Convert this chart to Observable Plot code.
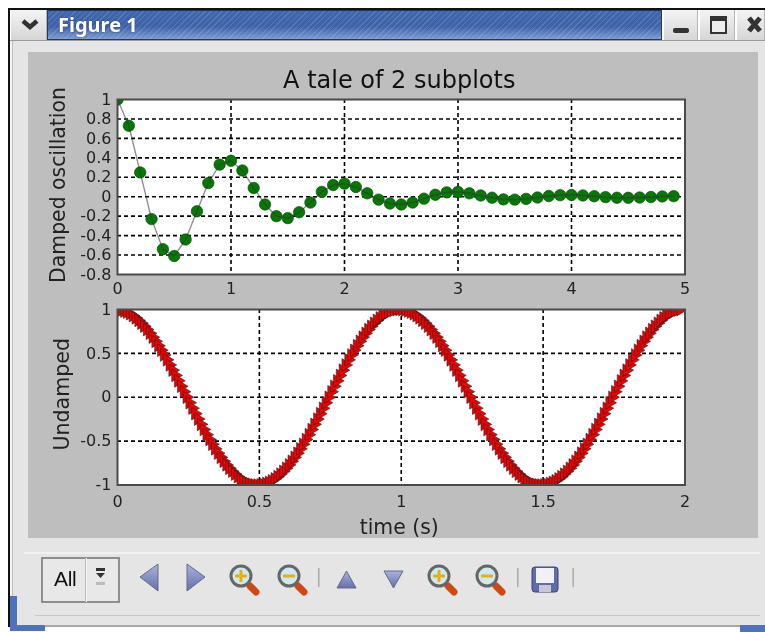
<!DOCTYPE html>
<html>
<head>
<meta charset="utf-8">
<script src="https://cdn.jsdelivr.net/npm/d3@7"></script>
<script src="https://cdn.jsdelivr.net/npm/@observablehq/plot@0.6"></script>
<style>
html,body{margin:0;padding:0;background:#fff;width:765px;height:632px;overflow:hidden}
#win{position:absolute;left:0;top:0;width:765px;height:632px;overflow:hidden;filter:blur(.5px);font-family:"DejaVu Sans",sans-serif}
.a{position:absolute;box-sizing:border-box}
.btn{background:linear-gradient(#f4f4f4,#d6d6d6);border-right:1px solid #b5b5b5;border-left:1px solid #fff}
svg{overflow:visible}
</style>
</head>
<body>
<div id="win">
  <div class="a" style="left:9px;top:40px;width:756px;height:586px;background:#e5e5e5"></div>
  <div class="a" style="left:9px;top:40px;width:3px;height:555px;background:#f6f6f6"></div>
  <div class="a" style="left:12px;top:41px;width:1px;height:555px;background:#bdbdbd"></div>
  <div class="a" style="left:9px;top:40px;width:756px;height:1px;background:#9a9a9a"></div>
  <div class="a" style="left:8px;top:9px;width:2px;height:618px;background:#111"></div>
  <div class="a" style="left:8px;top:8px;width:757px;height:2px;background:#111"></div>
  <div class="a btn" style="left:10px;top:10px;width:37px;height:30px"></div>
  <svg class="a" style="left:20px;top:17px" width="22" height="16"><path d="M3 4 L10 10 L17 4" fill="none" stroke="#333" stroke-width="4.5"/></svg>
  <div class="a" style="left:47px;top:10px;width:615px;height:30px;border:1px solid #26385f;background:repeating-linear-gradient(135deg,rgba(255,255,255,0) 0 3px,rgba(255,255,255,.14) 3px 4px),linear-gradient(#3f66ad,#3d62a8 55%,#7a9ad2)"></div>
  <div class="a" style="left:58px;top:11px;color:#fff;font:bold 20px 'Noto Sans';text-shadow:0 0 2px #24386a">Figure 1</div>
  <div class="a btn" style="left:663px;top:10px;width:35px;height:30px"></div>
  <div class="a btn" style="left:699px;top:10px;width:36px;height:30px"></div>
  <div class="a btn" style="left:736px;top:10px;width:29px;height:30px"></div>
  <svg class="a" style="left:663px;top:10px" width="102" height="30">
    <rect x="10" y="18" width="16" height="5" rx="2" fill="#333"/>
    <rect x="48" y="7" width="15" height="16" fill="#eee" stroke="#333" stroke-width="2"/><rect x="48" y="7" width="15" height="4" fill="#333"/>
    <path d="M86 8 L97 21 M97 8 L86 21" stroke="#333" stroke-width="5"/>
  </svg>
  <div class="a" style="left:28px;top:52px;width:730px;height:486px;background:#bebebe"></div>
  <div id="top" class="a" style="left:0;top:0"></div>
  <div id="bottom" class="a" style="left:0;top:290px"></div>
  <div class="a" style="left:24px;top:552px;width:736px;height:2px;background:#f1f1f1"></div>
  <div class="a" style="left:35px;top:615px;width:725px;height:1px;background:#c6c6c6"></div>
  <div class="a" style="left:41px;top:557px;width:79px;height:46px;border:2px solid #8e8e8e;background:#e8e8e8"></div>
  <div class="a" style="left:85px;top:558px;width:2px;height:44px;background:#f5f5f5;border-left:1px solid #bbb"></div>
  <div class="a" style="left:54px;top:567px;font:21px 'Liberation Sans';color:#111;letter-spacing:-.3px">All</div>
  <svg class="a" style="left:0;top:550px" width="765" height="60">
    <defs>
      <linearGradient id="b" x1="0" y1="0" x2="0" y2="1"><stop offset="0" stop-color="#a9b2dd"/><stop offset="1" stop-color="#666fa8"/></linearGradient>
      <g id="lens"><path d="M9 10 L15 16" stroke="#cc4a16" stroke-width="7" stroke-linecap="round"/><circle r="10" fill="#cfe9f3" stroke="#666" stroke-width="3"/></g>
    </defs>
    <path d="M96 23 H105 L100.5 28 Z M96 21 h9 v-3 h-9z" fill="#333"/><rect x="96" y="32" width="9" height="3" fill="#bbb"/>
    <path d="M158 14 V41 L140 27 Z M187 14 V41 L205 27 Z" fill="url(#b)" stroke="#666b85" stroke-width="1"/>
    <path d="M337 38 L346.500 21 L356 38 Z M384 21 H403 L393.500 38 Z" fill="url(#b)" stroke="#666b85" stroke-width="1"/>
    <g fill="#aaa"><rect x="318" y="18" width="1.500" height="19"/><rect x="517" y="18" width="1.500" height="19"/><rect x="572.500" y="18" width="1.500" height="19"/></g>
    <use href="#lens" x="241" y="26"/><use href="#lens" x="289" y="26"/><use href="#lens" x="439" y="26"/><use href="#lens" x="487" y="26"/>
    <g stroke="#e8ae12" stroke-width="3"><path d="M235 26 h12 M241 20 v12 M283 26 h12 M433 26 h12 M439 20 v12 M481 26 h12"/></g>
    <rect x="532" y="17" width="26" height="25" rx="3" fill="#5f6cab" stroke="#3b4270" stroke-width="1"/>
    <rect x="536" y="18" width="18" height="15" fill="#f0f0f6"/><rect x="539" y="35" width="12" height="7" fill="#c8c8d4"/>
  </svg>
  <div class="a" style="left:45px;top:625px;width:720px;height:2px;background:#a8a8a8"></div>
  <div class="a" style="left:10px;top:596px;width:7px;height:35px;background:#5072bd"></div>
  <div class="a" style="left:10px;top:625px;width:35px;height:6px;background:#5072bd"></div>
  <div class="a" style="left:740px;top:625px;width:25px;height:7px;background:#5072bd"></div>
</div>
<script>
const dampedT = [0,0.1,0.2,0.3,0.4,0.5,0.6,0.7,0.8,0.9,1,1.1,1.2,1.3,1.4,1.5,1.6,1.7,1.8,1.9,2,2.1,2.2,2.3,2.4,2.5,2.6,2.7,2.8,2.9,3,3.1,3.2,3.3,3.4,3.5,3.6,3.7,3.8,3.9,4,4.1,4.2,4.3,4.4,4.5,4.6,4.7,4.8,4.9];
const dampedY = [1,0.73,0.25,-0.23,-0.54,-0.61,-0.44,-0.15,0.14,0.33,0.37,0.27,0.09,-0.08,-0.2,-0.22,-0.16,-0.06,0.05,0.12,0.135,0.1,0.035,-0.03,-0.07,-0.08,-0.06,-0.02,0.02,0.045,0.05,0.035,0.013,-0.01,-0.027,-0.03,-0.022,-0.008,0.007,0.016,0.018,0.013,0.005,-0.004,-0.01,-0.011,-0.008,-0.003,0.003,0.006];
const undampedT = [
0,.01,.02,.03,.04,.05,.06,.07,.08,.09,.1,.11,.12,.13,.14,.15,.16,.17,.18,.19,.2,.21,.22,.23,.24,.25,.26,.27,.28,.29,.3,.31,.32,.33,.34,.35,.36,.37,.38,.39,.4,.41,.42,.43,.44,.45,.46,.47,.48,.49,
.5,.51,.52,.53,.54,.55,.56,.57,.58,.59,.6,.61,.62,.63,.64,.65,.66,.67,.68,.69,.7,.71,.72,.73,.74,.75,.76,.77,.78,.79,.8,.81,.82,.83,.84,.85,.86,.87,.88,.89,.9,.91,.92,.93,.94,.95,.96,.97,.98,.99,
1,1.01,1.02,1.03,1.04,1.05,1.06,1.07,1.08,1.09,1.1,1.11,1.12,1.13,1.14,1.15,1.16,1.17,1.18,1.19,1.2,1.21,1.22,1.23,1.24,1.25,1.26,1.27,1.28,1.29,1.3,1.31,1.32,1.33,1.34,1.35,1.36,1.37,1.38,1.39,1.4,1.41,1.42,1.43,1.44,1.45,1.46,1.47,1.48,1.49,
1.5,1.51,1.52,1.53,1.54,1.55,1.56,1.57,1.58,1.59,1.6,1.61,1.62,1.63,1.64,1.65,1.66,1.67,1.68,1.69,1.7,1.71,1.72,1.73,1.74,1.75,1.76,1.77,1.78,1.79,1.8,1.81,1.82,1.83,1.84,1.85,1.86,1.87,1.88,1.89,1.9,1.91,1.92,1.93,1.94,1.95,1.96,1.97,1.98,1.99];
const undampedY = [
1,.998,.992,.982,.969,.951,.93,.905,.876,.844,.809,.771,.729,.685,.637,.588,.536,.482,.426,.368,.309,.249,.187,.125,.063,0,-.063,-.125,-.187,-.249,-.309,-.368,-.426,-.482,-.536,-.588,-.637,-.685,-.729,-.771,-.809,-.844,-.876,-.905,-.93,-.951,-.969,-.982,-.992,-.998,
-1,-.998,-.992,-.982,-.969,-.951,-.93,-.905,-.876,-.844,-.809,-.771,-.729,-.685,-.637,-.588,-.536,-.482,-.426,-.368,-.309,-.249,-.187,-.125,-.063,0,.063,.125,.187,.249,.309,.368,.426,.482,.536,.588,.637,.685,.729,.771,.809,.844,.876,.905,.93,.951,.969,.982,.992,.998,
1,.998,.992,.982,.969,.951,.93,.905,.876,.844,.809,.771,.729,.685,.637,.588,.536,.482,.426,.368,.309,.249,.187,.125,.063,0,-.063,-.125,-.187,-.249,-.309,-.368,-.426,-.482,-.536,-.588,-.637,-.685,-.729,-.771,-.809,-.844,-.876,-.905,-.93,-.951,-.969,-.982,-.992,-.998,
-1,-.998,-.992,-.982,-.969,-.951,-.93,-.905,-.876,-.844,-.809,-.771,-.729,-.685,-.637,-.588,-.536,-.482,-.426,-.368,-.309,-.249,-.187,-.125,-.063,0,.063,.125,.187,.249,.309,.368,.426,.482,.536,.588,.637,.685,.729,.771,.809,.844,.876,.905,.93,.951,.969,.982,.992,.998];
const dampedXTicks = [0,1,2,3,4,5];
const dampedYTicks = [-0.8,-0.6,-0.4,-0.2,0,0.2,0.4,0.6,0.8,1];
const undampedXTicks = [0,0.5,1,1.5,2];
const undampedYTicks = [-1,-0.5,0,0.5,1];
const chartTitle = "A tale of 2 subplots";
const topYLabel = "Damped oscillation";
const bottomYLabel = "Undamped";
const bottomXLabel = "time (s)";

const font = "'DejaVu Sans',sans-serif";
const dash = {stroke:"#000",strokeOpacity:1,strokeWidth:1.6,strokeDasharray:"4,3"};
const rightTriangle = {draw(ctx,size){const r=Math.sqrt(size/Math.PI);ctx.moveTo(r*.85,0);ctx.lineTo(-r*.85,-r);ctx.lineTo(-r*.85,r);ctx.closePath();}};
const white = Plot.frame({fill:"#fff",stroke:null});
const border = Plot.frame({stroke:"#4a4a4a",strokeWidth:2});
const base = {width:765,style:{background:"transparent",fontFamily:font,fontSize:"16px",color:"#222",overflow:"visible"},marginLeft:117,marginRight:80.5};
const fmt = d=>String(d);
const yLabel = (t,dx,dy,fontSize)=>Plot.text([t],{frameAnchor:"left",textAnchor:"middle",rotate:-90,dx,dy,fontSize,fill:"#222",fontFamily:font});

const top_ = Plot.plot({...base,height:300,marginTop:99,marginBottom:26,
  x:{domain:[0,5],nice:false},y:{domain:[-0.8,1],nice:false},
  marks:[white,
    Plot.ruleX(dampedXTicks,{...dash,filter:d=>d>0&&d<5}),
    Plot.ruleY(dampedYTicks,{...dash,filter:d=>d>-0.8&&d<1}),
    Plot.dot(dampedT.map((t,i)=>({t,y:dampedY[i]})),{x:"t",y:"y",r:5.7,fill:"#047a04",stroke:"#0a4a0a",strokeWidth:.7,clip:"frame"}),
    Plot.line(dampedT.map((t,i)=>({t,y:dampedY[i]})),{x:"t",y:"y",stroke:"#333",strokeOpacity:.55,strokeWidth:1.4,clip:"frame"}),
    border,
    Plot.axisX({ticks:dampedXTicks,tickFormat:fmt,tickSize:0,tickPadding:8,label:null,fontSize:16}),
    Plot.axisY({ticks:dampedYTicks,tickFormat:fmt,tickSize:0,tickPadding:6,label:null,fontSize:16}),
    yLabel(topYLabel,-59,-2,20.4),
    Plot.text([chartTitle],{frameAnchor:"top",dy:-29,dx:-2,fontSize:24,fill:"#111",fontFamily:font})
  ]});
document.getElementById("top").appendChild(top_);

const bot = Plot.plot({...base,height:250,marginTop:19,marginBottom:55.5,
  x:{domain:[0,2],nice:false},y:{domain:[-1,1],nice:false},
  marks:[white,
    Plot.ruleX(undampedXTicks,{...dash,filter:d=>d>0&&d<2}),
    Plot.ruleY(undampedYTicks,{...dash,filter:d=>d>-1&&d<1}),
    Plot.dot(undampedT.map((t,i)=>({t,y:undampedY[i]})),{x:"t",y:"y",r:6.3,symbol:rightTriangle,fill:"#f00000",stroke:"#222",strokeWidth:.6,clip:"frame"}),
    border,
    Plot.axisX({ticks:undampedXTicks,tickFormat:fmt,tickSize:0,tickPadding:11,label:null,fontSize:16}),
    Plot.axisY({ticks:undampedYTicks,tickFormat:fmt,tickSize:0,tickPadding:6,label:null,fontSize:16}),
    yLabel(bottomYLabel,-55,-3,20.6),
    Plot.text([bottomXLabel],{frameAnchor:"bottom",dy:49,dx:-2,fontSize:20.4,fill:"#222",fontFamily:font})
  ]});
document.getElementById("bottom").appendChild(bot);
</script>
</body>
</html>
